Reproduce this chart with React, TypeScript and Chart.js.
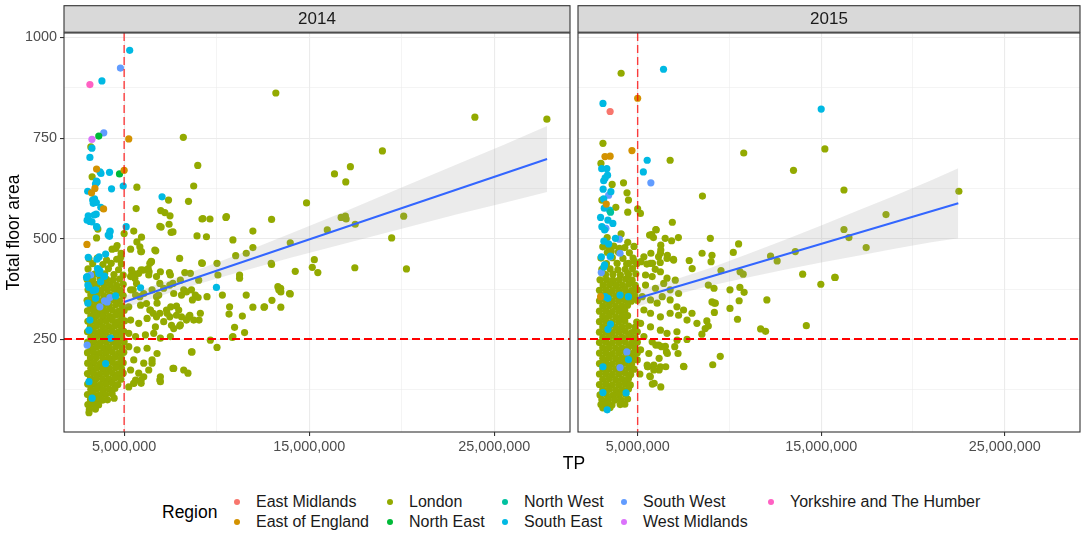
import React, { useEffect, useRef } from 'react';
import { Chart, registerables } from 'chart.js';

Chart.register(...registerables);

type Pair = [number, number];
type BandRow = [number, number, number];

const FONT = "'Liberation Sans', Arial, Helvetica, sans-serif";
const TP_UNIT = 1e6; // TP values below are written in millions

const REGIONS = ['East Midlands', 'East of England', 'London', 'North East', 'North West', 'South East', 'South West', 'West Midlands', 'Yorkshire and The Humber'];
const REGION_COLORS = ['#F8766D', '#D39200', '#93AA00', '#00BA38', '#00C19F', '#00B9E3', '#619CFF', '#DB72FB', '#FF61C3'];

const X_LIMITS = [1.75e6, 29.1e6];
const Y_LIMITS = [20, 1011];
const X_MAJOR = [5e6, 15e6, 25e6];
const X_MINOR = [10e6, 20e6];
const Y_MAJOR = [250, 500, 750, 1000];
const Y_MINOR = [125, 375, 625, 875];
const TP_THRESHOLD = 5e6;
const AREA_THRESHOLD = 250;

// ---------------- 2014 ----------------
const eastMidlands2014: Pair[] = [];
const eastOfEngland2014: Pair[] = [[5.25, 748], [3.51, 673], [5.0, 670], [3.24, 614], [3.42, 625], [3.89, 574], [2.99, 486]];
const londonSpread2014: Pair[] = [
  [13.2, 862], [8.2, 752], [3.2, 728], [3.27, 654], [8.98, 682], [5.69, 628], [8.76, 631], [8.48, 593], [7.4, 596], [5.65, 575],
  [6.98, 570], [7.2, 565], [7.48, 557], [9.26, 550], [9.64, 549], [10.53, 555], [12.97, 548], [23.96, 802], [27.85, 797], [18.96, 718],
  [17.23, 679], [16.37, 661], [16.98, 641], [14.86, 589], [20.11, 556], [16.73, 553], [16.96, 556], [17.0, 549], [11.96, 519], [11.96, 478],
  [13.98, 490], [15.98, 522], [17.49, 536], [19.46, 502], [20.26, 425], [17.47, 428], [15.17, 429], [15.28, 448], [15.47, 416], [14.25, 419],
  [12.97, 436], [13.98, 363], [13.46, 377], [13.47, 368], [12.99, 347], [11.96, 330], [12.56, 330], [13.47, 330],
  [6.93, 531], [7.43, 536], [7.64, 517], [10.5, 553], [8.94, 507], [9.45, 505], [10.88, 497], [11.6, 464], [11.03, 458], [12.95, 439],
  [13.31, 381], [13.36, 373], [13.94, 364], [11.24, 410], [11.24, 402], [12.59, 331], [11.6, 360], [11.39, 308], [10.97, 280], [11.51, 267],
  [10.85, 255], [10.67, 313], [10.7, 331], [10.07, 410], [10.02, 439], [9.23, 439], [10.31, 360], [9.66, 248], [10.02, 230], [9.48, 356],
  [9.0, 354], [9.05, 298], [8.55, 310], [8.69, 348], [8.37, 368], [8.64, 373], [8.1, 360], [8.0, 451], [7.83, 333], [7.64, 389],
  [7.47, 385], [7.52, 331], [6.75, 356], [6.93, 389], [6.75, 406], [6.48, 443], [6.39, 439], [6.66, 472], [5.94, 468], [5.85, 480],
  [6.03, 422], [6.3, 426], [6.35, 418], [5.4, 422], [5.49, 414], [5.58, 402], [5.67, 389], [5.49, 373],
  [7.64, 178], [6.93, 149], [8.45, 166], [8.64, 219], [10.88, 257], [5.53, 141], [5.92, 149], [6.96, 157], [6.96, 145], [6.51, 191],
  [8.22, 174], [4.46, 104], [7.68, 178], [8.67, 219],
  [5.85, 356], [6.21, 339], [6.39, 323], [6.57, 315], [6.75, 306], [6.93, 315], [7.29, 323], [7.47, 306], [7.83, 310], [7.56, 285],
  [8.0, 283], [8.1, 306], [8.37, 298],
  [3.58, 524], [7.54, 516], [5.0, 513], [5.94, 504], [5.52, 519], [3.51, 502], [4.62, 483], [4.35, 474], [4.55, 476], [4.84, 464],
  [4.82, 455], [4.77, 449], [5.69, 492], [5.9, 468], [6.71, 470], [5.35, 474], [6.46, 444], [5.92, 423], [5.42, 412], [7.45, 416],
  [8.28, 416], [9.19, 440], [7.0, 529], [9.21, 549],
  [5.35, 406], [5.79, 414], [6.33, 410], [6.96, 418], [7.5, 410], [8.04, 397], [8.58, 414], [9.03, 397],
  [5.35, 373], [5.62, 360], [6.06, 364], [6.51, 373], [6.87, 360], [7.14, 377], [7.68, 364], [8.22, 373], [8.85, 360],
  [5.25, 331], [5.89, 335], [6.42, 323], [6.78, 340], [7.32, 315], [7.95, 323], [8.49, 306], [8.76, 298], [9.12, 315],
  [5.35, 298], [5.79, 290], [6.24, 302], [6.69, 281], [7.14, 294], [7.68, 277], [8.04, 286],
  [5.25, 265], [5.62, 257], [6.15, 261], [6.6, 265], [6.96, 253], [7.5, 257],
  [5.25, 232], [5.7, 224], [6.24, 228], [6.78, 215], [5.52, 199], [6.06, 191], [6.51, 199], [5.35, 174], [5.79, 166], [6.33, 174],
  [5.25, 132], [5.62, 149], [6.06, 157], [5.92, 141], [5.52, 141],
];
const londonCore2014: Pair[] = [
  [3.1, 450], [3.55, 452], [4.05, 447], [4.6, 449],
  [3.3, 438], [3.85, 436], [4.3, 439], [4.85, 437],
  [3.05, 425], [3.6, 424], [4.15, 426], [4.7, 423],
  [3.4, 412], [3.95, 413], [4.45, 411], [4.95, 410],
  [3.0, 399], [3.3, 398], [3.7, 400], [4.05, 399], [4.4, 397], [4.75, 400],
  [3.2, 386], [3.55, 387], [3.9, 385], [4.25, 386], [4.6, 384], [4.95, 387],
  [3.05, 373], [3.4, 374], [3.75, 372], [4.1, 373], [4.45, 375], [4.8, 372],
  [3.2, 360], [3.55, 361], [3.9, 359], [4.25, 360], [4.6, 362], [4.95, 359],
  [3.0, 347], [3.35, 348], [3.7, 346], [4.05, 347], [4.4, 349], [4.75, 346],
  [3.18, 334], [3.5, 335], [3.85, 333], [4.2, 334], [4.55, 336], [4.9, 333],
  [3.02, 321], [3.35, 322], [3.68, 320], [4.02, 321], [4.36, 323], [4.7, 320], [5.0, 322],
  [3.2, 308], [3.52, 309], [3.86, 307], [4.2, 308], [4.53, 310], [4.86, 307],
  [3.04, 295], [3.37, 296], [3.7, 294], [4.03, 295], [4.37, 297], [4.7, 294], [5.02, 296],
  [3.18, 282], [3.5, 283], [3.84, 281], [4.18, 282], [4.52, 284], [4.85, 281],
  [3.02, 269], [3.35, 270], [3.68, 268], [4.01, 269], [4.35, 271], [4.68, 268], [4.98, 270],
  [3.2, 256], [3.52, 257], [3.86, 255], [4.2, 256], [4.54, 258], [4.87, 255],
  [3.03, 243], [3.36, 244], [3.7, 242], [4.04, 243], [4.38, 245], [4.7, 242], [5.0, 244],
  [3.2, 230], [3.53, 231], [3.87, 229], [4.2, 230], [4.55, 232], [4.88, 229],
  [3.02, 217], [3.35, 218], [3.68, 216], [4.02, 217], [4.36, 219], [4.7, 216], [4.98, 218],
  [3.18, 204], [3.5, 205], [3.85, 203], [4.18, 204], [4.52, 206], [4.85, 203],
  [3.03, 191], [3.36, 192], [3.7, 190], [4.03, 191], [4.37, 193], [4.7, 190], [4.95, 192],
  [3.2, 178], [3.53, 179], [3.86, 177], [4.2, 178], [4.54, 180], [4.86, 177],
  [3.02, 165], [3.35, 166], [3.68, 164], [4.02, 165], [4.36, 167], [4.68, 164], [4.95, 166],
  [3.18, 152], [3.5, 153], [3.84, 151], [4.18, 152], [4.5, 154], [4.82, 151],
  [3.03, 139], [3.36, 140], [3.7, 138], [4.03, 139], [4.36, 141], [4.66, 138],
  [3.2, 126], [3.52, 127], [3.86, 125], [4.2, 126], [4.5, 128],
  [3.02, 113], [3.35, 114], [3.68, 112], [4.0, 113], [4.35, 115],
  [3.18, 100], [3.5, 101], [3.82, 99], [4.1, 100],
  [3.04, 88], [3.3, 89], [3.62, 87],
  [3.12, 76], [3.45, 77],
  [3.1, 68],
];
const northEast2014: Pair[] = [[3.63, 755], [4.75, 661]];
const northWest2014: Pair[] = [];
const southEast2014: Pair[] = [
  [5.3, 968], [3.8, 892], [3.26, 725], [3.15, 702], [3.7, 666], [3.75, 662], [4.21, 665], [3.54, 641], [3.45, 636], [3.5, 643],
  [3.03, 618], [4.32, 624], [4.95, 631], [3.3, 596], [3.4, 599], [3.5, 590], [3.33, 588], [7.05, 604], [3.74, 578], [3.49, 561],
  [3.06, 557], [3.0, 546], [3.15, 543], [3.26, 542], [3.51, 530], [3.38, 559], [5.11, 530], [3.53, 529], [4.24, 519], [4.21, 506],
  [4.23, 517], [4.14, 509], [4.0, 462], [3.65, 455], [3.53, 449], [3.06, 454], [3.56, 426], [3.69, 420], [3.6, 424], [2.97, 404],
  [3.9, 406], [3.0, 406], [3.04, 385], [3.1, 379], [3.46, 373], [3.33, 371], [3.63, 414], [3.94, 407], [3.73, 393], [3.04, 340],
  [3.46, 352], [4.54, 358], [5.89, 378], [9.99, 379], [3.15, 298], [3.1, 273], [4.27, 253], [4.0, 190], [3.1, 145], [3.27, 104],
];
const southWest2014: Pair[] = [[4.8, 924], [3.9, 763], [3.19, 410], [3.69, 331], [4.08, 343], [4.23, 354], [3.94, 346], [3.0, 236]];
const westMidlands2014: Pair[] = [[3.26, 747]];
const yorkshire2014: Pair[] = [[3.15, 883]];

const fit2014: Pair[] = [[5.0, 343], [27.86, 698]];
const band2014: BandRow[] = [
  [5, 328, 358], [8, 374, 406], [11, 414, 458], [14, 453, 513], [17, 489, 569],
  [20, 525, 627], [23, 561, 685], [25.5, 589, 733], [27.86, 616, 780],
];

// ---------------- 2015 ----------------
const eastMidlands2015: Pair[] = [[3.5, 816]];
const eastOfEngland2015: Pair[] = [[5.0, 849], [3.22, 704], [3.5, 705], [4.69, 719], [3.29, 586], [2.98, 356]];
const londonSpread2015: Pair[] = [
  [4.1, 911], [3.11, 737], [3.0, 687], [6.77, 695], [10.78, 713], [15.2, 723], [13.49, 670], [3.61, 635], [4.23, 639], [4.42, 614],
  [4.5, 596], [8.53, 606], [3.05, 596], [3.81, 578], [4.46, 566], [5.0, 574], [5.15, 563], [6.89, 541], [5.99, 523], [5.76, 510],
  [5.86, 503], [4.1, 512], [3.34, 503], [3.29, 490], [4.46, 491], [6.26, 484], [6.5, 501], [6.85, 495], [7.22, 503], [8.96, 501],
  [4.01, 476], [3.42, 480], [3.56, 468], [6.26, 472], [5.72, 464], [6.14, 455], [6.62, 459], [6.95, 449], [6.23, 441], [5.81, 439],
  [5.96, 424], [4.5, 439], [4.46, 414], [4.82, 444], [5.18, 443], [5.5, 437], [8.51, 464], [9.05, 459], [7.81, 446], [7.97, 426],
  [5.65, 509], [6.01, 522], [10.5, 487], [10.21, 466], [9.0, 443], [12.24, 457], [12.6, 445], [13.59, 468], [9.54, 421], [10.75, 412],
  [10.58, 418], [8.85, 385], [9.16, 377], [10.03, 373], [10.57, 379], [10.8, 367], [12.04, 348], [10.53, 346], [10.03, 327], [9.18, 340],
  [9.18, 317], [10.44, 300], [8.77, 296], [8.85, 283], [8.68, 277], [8.5, 263], [11.7, 276], [11.97, 270], [14.19, 284], [14.98, 387],
  [13.99, 412], [15.74, 404], [9.5, 208], [9.09, 187], [7.5, 183], [7.69, 250], [7.15, 248], [7.02, 232], [6.57, 219], [6.51, 233],
  [7.2, 215], [6.3, 232], [5.66, 159], [5.56, 182], [5.8, 139], [5.12, 164], [5.88, 186], [6.24, 182], [5.99, 236], [6.17, 203],
  [6.62, 215], [6.53, 182], [7.52, 182], [5.54, 182], [5.69, 157], [5.9, 141], [6.17, 174], [6.26, 132], [9.23, 340], [9.05, 343],
  [16.24, 621], [22.5, 618], [18.53, 560], [16.24, 523], [16.51, 503], [17.45, 478], [15.76, 404],
  [5.34, 455], [5.7, 439], [6.24, 464], [6.6, 451], [6.96, 447], [5.43, 410], [5.79, 406], [6.24, 418], [6.6, 402], [7.05, 397],
  [5.43, 385], [5.97, 377], [6.42, 389], [6.77, 373], [7.23, 364], [5.25, 356], [5.7, 348], [6.06, 340], [6.34, 356], [6.77, 348],
  [7.14, 331], [7.5, 323], [7.96, 315], [8.23, 290], [5.34, 323], [5.7, 315], [6.24, 306], [6.77, 315], [7.23, 310], [7.69, 298],
  [5.16, 290], [5.7, 281], [6.24, 273], [6.6, 265], [7.14, 269], [5.34, 257], [5.79, 244], [6.15, 236], [5.16, 224], [5.61, 215],
  [4.98, 199], [5.52, 186], [5.88, 174],
];
const londonCore2015: Pair[] = [
  [3.1, 480], [3.7, 482], [4.3, 478], [4.8, 481],
  [3.35, 466], [3.95, 467], [4.55, 465],
  [3.0, 452], [3.62, 453], [4.2, 451], [4.75, 452],
  [3.3, 438], [3.88, 439], [4.4, 437], [4.95, 438],
  [3.05, 424], [3.5, 425], [3.92, 423], [4.32, 424], [4.72, 426],
  [3.25, 411], [3.65, 412], [4.06, 410], [4.5, 411], [4.9, 413],
  [2.95, 398], [3.3, 399], [3.65, 397], [4.0, 398], [4.35, 400], [4.7, 397],
  [3.12, 385], [3.47, 386], [3.82, 384], [4.17, 385], [4.52, 387], [4.87, 384],
  [2.92, 372], [3.27, 373], [3.62, 371], [3.97, 372], [4.32, 374], [4.67, 371], [4.98, 373],
  [3.1, 359], [3.45, 360], [3.8, 358], [4.15, 359], [4.5, 361], [4.85, 358],
  [2.92, 346], [3.27, 347], [3.62, 345], [3.97, 346], [4.3, 348], [4.65, 345], [4.98, 347],
  [3.1, 333], [3.45, 334], [3.8, 332], [4.15, 333], [4.45, 335],
  [2.92, 320], [3.27, 321], [3.62, 319], [3.97, 320], [4.3, 322],
  [3.1, 307], [3.45, 308], [3.8, 306], [4.15, 307], [4.45, 309],
  [2.92, 294], [3.27, 295], [3.62, 293], [3.97, 294], [4.3, 296], [4.95, 293],
  [3.1, 281], [3.45, 282], [3.8, 280], [4.15, 281], [4.5, 283], [4.85, 280],
  [2.92, 268], [3.27, 269], [3.62, 267], [3.97, 268], [4.32, 270], [4.67, 267], [4.98, 269],
  [3.1, 255], [3.45, 256], [3.8, 254], [4.15, 255], [4.5, 257], [4.85, 254],
  [2.92, 242], [3.27, 243], [3.62, 241], [3.97, 242], [4.32, 244], [4.67, 241], [4.98, 243],
  [3.1, 229], [3.45, 230], [3.8, 228], [4.15, 229], [4.5, 231], [4.85, 228],
  [2.92, 216], [3.27, 217], [3.62, 215], [3.97, 216], [4.32, 218], [4.67, 215], [4.98, 217],
  [3.1, 203], [3.45, 204], [3.8, 202], [4.15, 203], [4.5, 205], [4.85, 202],
  [2.92, 190], [3.27, 191], [3.62, 189], [3.97, 190], [4.32, 192], [4.67, 189],
  [3.1, 177], [3.45, 178], [3.8, 176], [4.15, 177], [4.5, 179], [4.8, 176],
  [2.92, 164], [3.27, 165], [3.62, 163], [3.97, 164], [4.32, 166], [4.62, 163],
  [3.1, 151], [3.45, 152], [3.8, 150], [4.15, 151], [4.5, 153],
  [2.92, 138], [3.27, 139], [3.62, 137], [3.97, 138], [4.32, 140], [4.6, 137],
  [3.1, 125], [3.45, 126], [3.8, 124], [4.15, 125], [4.5, 127],
  [2.95, 112], [3.3, 113], [3.65, 111], [4.0, 112], [4.35, 114],
  [3.05, 100], [3.4, 101], [3.75, 99], [4.1, 100], [4.45, 102],
  [3.0, 88], [3.3, 89], [3.6, 87], [4.05, 88], [4.3, 89],
  [3.1, 80], [3.5, 81],
];
const northEast2015: Pair[] = [];
const northWest2015: Pair[] = [[3.52, 566]];
const southEast2015: Pair[] = [
  [6.41, 921], [3.11, 836], [15.0, 822], [3.04, 674], [3.32, 674], [5.52, 695], [5.31, 666], [3.36, 658], [3.15, 644], [3.23, 651],
  [3.12, 623], [3.54, 617], [3.15, 599], [3.18, 576], [3.47, 571], [2.98, 553], [3.38, 546], [3.65, 538], [3.05, 530], [3.2, 522],
  [3.16, 494], [3.42, 487], [3.79, 501], [3.52, 457], [3.02, 455], [3.2, 435], [3.16, 430], [3.23, 356], [3.38, 352], [4.04, 360],
  [4.5, 356], [3.52, 288], [3.38, 275], [4.5, 200], [3.11, 182], [3.11, 118], [4.37, 117], [3.34, 75],
];
const southWest2015: Pair[] = [[5.72, 639], [3.42, 608], [3.27, 526], [4.0, 499], [4.04, 464], [3.5, 455], [3.02, 416], [4.41, 219], [4.04, 180]];
const westMidlands2015: Pair[] = [];
const yorkshire2015: Pair[] = [];

const fit2015: Pair[] = [[5.0, 352], [22.47, 588]];
const band2015: BandRow[] = [
  [5, 332, 372], [7, 360, 398], [9, 384, 428], [11, 404, 462], [13, 423, 497],
  [15, 441, 533], [17, 458, 570], [19, 475, 607], [21, 491, 645], [22.47, 501, 675],
];

const groups2014: Pair[][] = [eastMidlands2014, eastOfEngland2014, [...londonCore2014, ...londonSpread2014], northEast2014, northWest2014, southEast2014, southWest2014, westMidlands2014, yorkshire2014];
const groups2015: Pair[][] = [eastMidlands2015, eastOfEngland2015, [...londonCore2015, ...londonSpread2015], northEast2015, northWest2015, southEast2015, southWest2015, westMidlands2015, yorkshire2015];

const fmtTP = (v: number) => Math.round(v).toLocaleString('en-US');
const isMajor = (arr: number[], v: number) => arr.some((m) => Math.abs(m - v) < 1e-6);

function buildDatasets(groups: Pair[][], fit: Pair[], band: BandRow[]) {
  const ds: any[] = [];
  groups.forEach((g, i) => {
    ds.push({
      type: 'scatter',
      label: REGIONS[i],
      data: g.map(([tp, a]) => ({ x: tp * TP_UNIT, y: a })),
      pointRadius: 3.6,
      pointBorderWidth: 0,
      pointBackgroundColor: REGION_COLORS[i],
      backgroundColor: REGION_COLORS[i],
      borderColor: REGION_COLORS[i],
      order: REGIONS[i] === 'London' ? 40 : 30,
    });
  });
  ds.push({
    type: 'line',
    data: band.map(([tp, , hi]) => ({ x: tp * TP_UNIT, y: hi })),
    borderWidth: 0,
    borderColor: 'rgba(0,0,0,0)',
    pointRadius: 0,
    fill: '+1',
    backgroundColor: 'rgba(153,153,153,0.2)',
    order: 6,
  });
  ds.push({
    type: 'line',
    data: band.map(([tp, lo]) => ({ x: tp * TP_UNIT, y: lo })),
    borderWidth: 0,
    borderColor: 'rgba(0,0,0,0)',
    pointRadius: 0,
    fill: false,
    order: 7,
  });
  ds.push({
    type: 'line',
    data: fit.map(([tp, a]) => ({ x: tp * TP_UNIT, y: a })),
    borderColor: '#3366FF',
    borderWidth: 2,
    pointRadius: 0,
    fill: false,
    order: 5,
  });
  return ds;
}

const panelDecor = (stripLabel: string) => ({
  id: 'panelDecor' + stripLabel,
  afterDatasetsDraw(chart: any) {
    const { ctx, chartArea: a, scales } = chart;
    ctx.save();
    ctx.beginPath();
    ctx.rect(a.left, a.top, a.right - a.left, a.bottom - a.top);
    ctx.clip();
    const yv = Math.round(scales.y.getPixelForValue(AREA_THRESHOLD));
    ctx.setLineDash([8, 4]);
    ctx.strokeStyle = '#FF0000';
    ctx.lineWidth = 2;
    ctx.beginPath();
    ctx.moveTo(a.left, yv);
    ctx.lineTo(a.right, yv);
    ctx.stroke();
    const xv = scales.x.getPixelForValue(TP_THRESHOLD);
    ctx.strokeStyle = 'rgba(255,0,0,0.75)';
    ctx.lineWidth = 1.4;
    ctx.beginPath();
    ctx.moveTo(xv, a.top);
    ctx.lineTo(xv, a.bottom);
    ctx.stroke();
    ctx.restore();
  },
  afterDraw(chart: any) {
    const { ctx, chartArea: a } = chart;
    ctx.save();
    ctx.strokeStyle = '#333333';
    ctx.lineWidth = 1.1;
    ctx.strokeRect(a.left, a.top, a.right - a.left, a.bottom - a.top);
    const sTop = 5.7;
    const sBot = a.top - 0.8;
    ctx.fillStyle = '#D9D9D9';
    ctx.fillRect(a.left, sTop, a.right - a.left, sBot - sTop);
    ctx.strokeRect(a.left, sTop, a.right - a.left, sBot - sTop);
    ctx.fillStyle = '#1A1A1A';
    ctx.font = `17px ${FONT}`;
    ctx.textAlign = 'center';
    ctx.textBaseline = 'middle';
    ctx.fillText(stripLabel, (a.left + a.right) / 2, (sTop + sBot) / 2 + 0.5);
    ctx.restore();
  },
});

interface PanelProps {
  left: number;
  width: number;
  stripLabel: string;
  groups: Pair[][];
  fit: Pair[];
  band: BandRow[];
  showY: boolean;
  padLeft: number;
  padRight: number;
}

const CANVAS_H = 470;

function Panel(props: PanelProps) {
  const ref = useRef<HTMLCanvasElement>(null);
  useEffect(() => {
    const { stripLabel, groups, fit, band, showY, padLeft, padRight } = props;
    const tickFont = { family: FONT, size: 14.4 };
    const chart = new Chart(ref.current as HTMLCanvasElement, {
      type: 'scatter',
      data: { datasets: buildDatasets(groups, fit, band) },
      plugins: [panelDecor(stripLabel)],
      options: {
        responsive: false,
        animation: false,
        events: [],
        layout: { padding: { top: 33, left: padLeft, right: padRight, bottom: 12 } },
        plugins: { legend: { display: false }, tooltip: { enabled: false } },
        scales: {
          x: {
            type: 'linear',
            min: X_LIMITS[0],
            max: X_LIMITS[1],
            afterBuildTicks: (axis: any) => {
              axis.ticks = [...X_MAJOR, ...X_MINOR].sort((p, q) => p - q).map((v) => ({ value: v }));
            },
            afterFit: (axis: any) => {
              axis.height = 26;
            },
            ticks: {
              autoSkip: false,
              maxRotation: 0,
              padding: 2,
              color: '#4D4D4D',
              font: tickFont,
              callback: (v: any) => (isMajor(X_MAJOR, Number(v)) ? fmtTP(Number(v)) : ''),
            },
            grid: {
              color: '#EBEBEB',
              lineWidth: (c: any) => (c.tick && isMajor(X_MAJOR, c.tick.value) ? 1.1 : 0.55),
              drawTicks: true,
              tickLength: 4,
              tickWidth: 1.1,
              tickColor: (c: any) => (c.tick && isMajor(X_MAJOR, c.tick.value) ? '#333333' : 'rgba(0,0,0,0)'),
            },
            border: { display: false },
          },
          y: {
            type: 'linear',
            min: Y_LIMITS[0],
            max: Y_LIMITS[1],
            afterBuildTicks: (axis: any) => {
              axis.ticks = [...Y_MAJOR, ...Y_MINOR].sort((p, q) => p - q).map((v) => ({ value: v }));
            },
            afterFit: (axis: any) => {
              axis.width = showY ? 64 - padLeft : 0;
            },
            title: {
              display: showY,
              text: 'Total floor area',
              color: '#000000',
              font: { family: FONT, size: 17.5 },
              padding: { top: 3.5, bottom: 0 },
            },
            ticks: {
              display: showY,
              autoSkip: false,
              padding: 3,
              color: '#4D4D4D',
              font: tickFont,
              callback: (v: any) => (isMajor(Y_MAJOR, Number(v)) ? String(v) : ''),
            },
            grid: {
              color: '#EBEBEB',
              lineWidth: (c: any) => (c.tick && isMajor(Y_MAJOR, c.tick.value) ? 1.1 : 0.55),
              drawTicks: showY,
              tickLength: 4,
              tickWidth: 1.1,
              tickColor: (c: any) => (c.tick && isMajor(Y_MAJOR, c.tick.value) ? '#333333' : 'rgba(0,0,0,0)'),
            },
            border: { display: false },
          },
        },
      } as any,
    });
    return () => chart.destroy();
  }, []);
  return (
    <canvas
      ref={ref}
      width={props.width}
      height={CANVAS_H}
      style={{ position: 'absolute', left: props.left, top: 0, width: props.width, height: CANVAS_H }}
    />
  );
}

const LEGEND_TITLE = 'Region';
const LEGEND_COL_X = [237, 390, 505, 624, 771];
const LEGEND_ROW_Y = [502, 522];

export default function App() {
  const textStyle: React.CSSProperties = {
    position: 'absolute',
    fontFamily: FONT,
    whiteSpace: 'nowrap',
    lineHeight: '20px',
    height: 20,
  };
  return (
    <div style={{ position: 'fixed', left: 0, top: 0, width: 1084, height: 534, background: '#FFFFFF', overflow: 'hidden' }}>
      <Panel left={0} width={574} stripLabel="2014" groups={groups2014} fit={fit2014} band={band2014} showY={true} padLeft={0} padRight={3} />
      <Panel left={574} width={510} stripLabel="2015" groups={groups2015} fit={fit2015} band={band2015} showY={false} padLeft={3} padRight={1} />
      <div style={{ ...textStyle, left: 474, width: 200, top: 453, textAlign: 'center', fontSize: 17.5, color: '#000' }}>TP</div>
      <div style={{ ...textStyle, left: 162, top: 502, fontSize: 17.5, color: '#000' }}>{LEGEND_TITLE}</div>
      {REGIONS.map((name, i) => {
        const col = Math.floor(i / 2);
        const row = i % 2;
        const cx = LEGEND_COL_X[col];
        const cy = LEGEND_ROW_Y[row];
        return (
          <React.Fragment key={name}>
            <div
              style={{
                position: 'absolute',
                left: cx - 3.3,
                top: cy - 3.3,
                width: 6.6,
                height: 6.6,
                borderRadius: '50%',
                background: REGION_COLORS[i],
              }}
            />
            <div style={{ ...textStyle, left: cx + 19, top: cy - 10, fontSize: 16, color: '#1A1A1A' }}>{name}</div>
          </React.Fragment>
        );
      })}
    </div>
  );
}
